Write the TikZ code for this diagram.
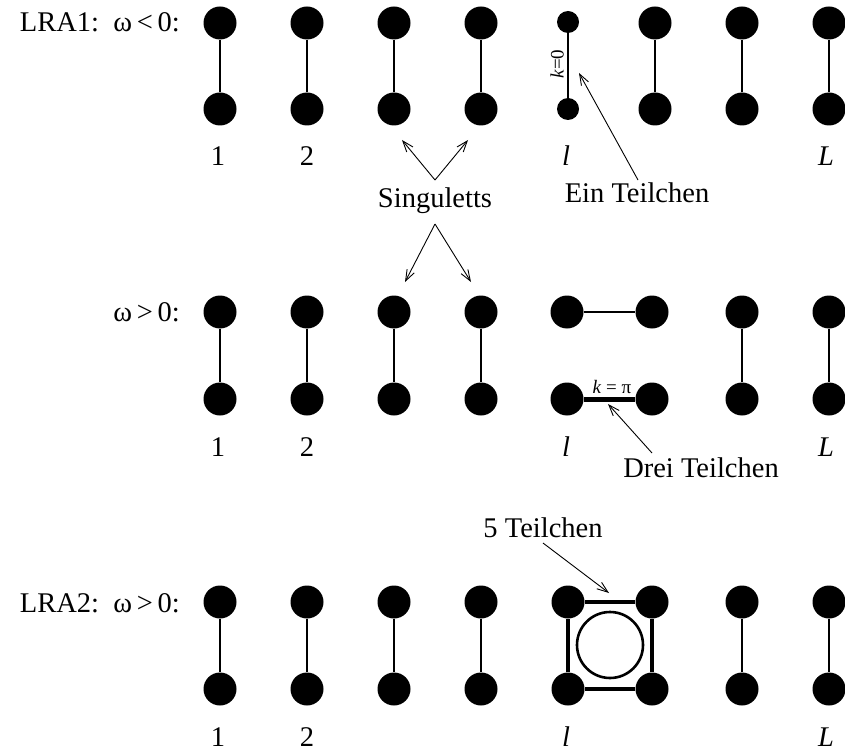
\documentclass[tikz,border=0pt]{standalone}
\usepackage{fontspec}
\setmainfont{Liberation Serif}
\usetikzlibrary{arrows.meta}
\begin{document}
\begin{tikzpicture}[x=1pt,y=-1pt,
  dot/.style={circle,fill=black,inner sep=0pt,minimum size=33pt},
  sdot/.style={circle,fill=black,inner sep=0pt,minimum size=22pt},
  bond/.style={line width=2.8pt},
  thinbond/.style={line width=1.7pt},
  thickbond/.style={line width=5pt},
  sq/.style={line width=3.3pt},
  lab/.style={font=\fontsize{28.5}{34}\selectfont, anchor=base, inner sep=0pt},
  small/.style={font=\fontsize{19}{22}\selectfont, inner sep=0pt},
  ptr/.style={line width=0.9pt, -{Straight Barb[length=11pt,width=8pt]}},
  ]
\useasboundingbox (0,0) rectangle (845,751);

% ---------- Row 1 ----------
\node[lab, anchor=base east] (r1) at (180,32) {LRA1:\ \ ω\,<\,0:};
\foreach \i/\x in {1/220,2/307,3/394,4/481,6/655,7/742,8/829} {
  \node[dot] (at\i) at (\x,23) {};
  \node[dot] (ab\i) at (\x,109) {};
  \draw[bond] (at\i) -- (ab\i);
}
\node[sdot] (at5) at (568,22) {};
\node[sdot] (ab5) at (568,109) {};
\draw[thinbond] (at5) -- (ab5);
\node[small, rotate=90] (k0) at (557,64) {\textit{k}=0};
\node[lab] (a1l) at (218,166) {1};
\node[lab] (a2l) at (307,166) {2};
\node[lab] (all) at (566,166) {\textit{l}};
\node[lab] (aLl) at (826,166) {\textit{L}};

% ---------- Row 2 ----------
\node[lab, anchor=base east] (r2) at (180,321) {ω\,>\,0:};
\foreach \i/\x in {1/220,2/307,3/394,4/481,7/742,8/829} {
  \node[dot] (bt\i) at (\x,312) {};
  \node[dot] (bb\i) at (\x,399) {};
  \draw[bond] (bt\i) -- (bb\i);
}
\node[dot] (btl) at (567,312) {};
\node[dot] (btr) at (652,312) {};
\node[dot] (bbl) at (567,399) {};
\node[dot] (bbr) at (652,399) {};
\draw[bond] (btl) -- (btr);
\draw[thickbond] (bbl) -- (bbr);
\node[small, anchor=base] (kpi) at (612,393) {\textit{k} = π};
\node[lab] (b1l) at (218,456) {1};
\node[lab] (b2l) at (307,456) {2};
\node[lab] (bll) at (566,456) {\textit{l}};
\node[lab] (bLl) at (826,456) {\textit{L}};

% ---------- Row 3 ----------
\node[lab, anchor=base east] (r3) at (180,612) {LRA2:\ \ ω\,>\,0:};
\foreach \i/\x in {1/220,2/307,3/394,4/481,7/742,8/829} {
  \node[dot] (ct\i) at (\x,602) {};
  \node[dot] (cb\i) at (\x,689) {};
  \draw[bond] (ct\i) -- (cb\i);
}
\node[dot] (ctl) at (568,602) {};
\node[dot] (ctr) at (652,602) {};
\node[dot] (cbl) at (568,689) {};
\node[dot] (cbr) at (652,689) {};
\draw[sq] (ctl) -- (ctr);
\draw[sq] (ctr) -- (cbr);
\draw[sq] (cbr) -- (cbl);
\draw[sq] (cbl) -- (ctl);
\node[circle, draw, line width=2.6pt, minimum size=66pt, inner sep=0pt] (ring) at (610,645) {};
\node[lab] (c1l) at (218,746) {1};
\node[lab] (c2l) at (307,746) {2};
\node[lab] (cll) at (566,746) {\textit{l}};
\node[lab] (cLl) at (826,746) {\textit{L}};

% ---------- Annotations ----------
\node[lab] (sing) at (435,208) {Singuletts};
\coordinate (su) at (435,180);
\coordinate (sd) at (435,224);
\coordinate (su1) at (402,140);
\coordinate (su2) at (468,140);
\coordinate (sd1) at (405,282);
\coordinate (sd2) at (471,282);
\draw[ptr] (su) -- (su1);
\draw[ptr] (su) -- (su2);
\draw[ptr] (sd) -- (sd1);
\draw[ptr] (sd) -- (sd2);

\node[lab] (ein) at (637,203) {Ein Teilchen};
\coordinate (eint) at (638,180);
\coordinate (einh) at (579,73);
\draw[ptr] (eint) -- (einh);

\node[lab] (drei) at (701,477) {Drei Teilchen};
\coordinate (dreit) at (652,453);
\coordinate (dreih) at (608,404);
\draw[ptr] (dreit) -- (dreih);

\node[lab] (fuenf) at (543,537) {5 Teilchen};
\coordinate (fuenft) at (543,543);
\coordinate (fuenfh) at (609,593);
\draw[ptr] (fuenft) -- (fuenfh);
\end{tikzpicture}
\end{document}
